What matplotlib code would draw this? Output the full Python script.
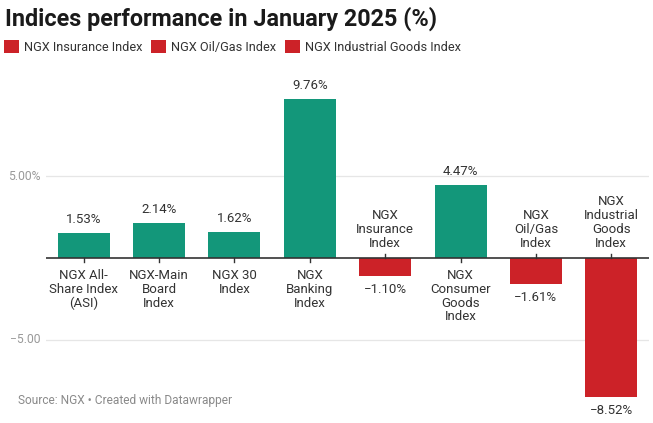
import matplotlib
matplotlib.use("Agg")
import matplotlib.pyplot as plt
from matplotlib.patches import Patch

plt.rcParams['font.family'] = ['Roboto', 'DejaVu Sans']

categories = ["NGX All-\nShare Index\n(ASI)", "NGX-Main\nBoard\nIndex", "NGX 30\nIndex",
              "NGX\nBanking\nIndex", "NGX\nInsurance\nIndex", "NGX\nConsumer\nGoods\nIndex",
              "NGX\nOil/Gas\nIndex", "NGX\nIndustrial\nGoods\nIndex"]
values = [1.53, 2.14, 1.62, 9.76, -1.10, 4.47, -1.61, -8.52]
legend_labels = ["NGX Insurance Index", "NGX Oil/Gas Index", "NGX Industrial Goods Index"]
yticks = [-5, 5]
ytick_labels = ["\u22125.00", "5.00%"]

GREEN = "#13977a"
RED = "#cc2228"
TXT = "#333333"

fig = plt.figure(figsize=(6.53, 4.23), dpi=100)
ax = fig.add_axes([46/653, 23/423, (649-46)/653, 310/423])
ax.set_xlim(-0.5, len(values) - 0.5)
ax.set_ylim(-8.71, 10.3)
for s in ax.spines.values():
    s.set_visible(False)
ax.set_xticks([])
ax.set_yticks([])

for y in yticks:
    ax.axhline(y, color="#e6e6e6", lw=0.9, zorder=0)
for y, lab in zip(yticks, ytick_labels):
    ax.annotate(lab, xy=(0, y), xycoords=('axes fraction', 'data'), xytext=(-4, 0),
                textcoords='offset points', ha='right', va='center', fontsize=8.7, color="#999999")

colors = [GREEN if v >= 0 else RED for v in values]
ax.bar(range(len(values)), values, width=0.69, color=colors, zorder=2)
ax.axhline(0, color="#333333", lw=1.2, zorder=3)

for i, (v, c) in enumerate(zip(values, categories)):
    sign = 1 if v >= 0 else -1
    ax.plot([i, i], [0, -sign * 0.22], color="#333333", lw=1.0, zorder=3)
    if v >= 0:
        ax.annotate(c, xy=(i, 0), xytext=(0, -8), textcoords='offset points', ha='center', va='top',
                    fontsize=9.5, color=TXT, linespacing=1.08)
        ax.annotate(f"{v:.2f}%", xy=(i, v), xytext=(0, 5), textcoords='offset points', ha='center',
                    va='bottom', fontsize=9.5, color=TXT)
    else:
        ax.annotate(c, xy=(i, 0), xytext=(0, 6), textcoords='offset points', ha='center', va='bottom',
                    fontsize=9.5, color=TXT, linespacing=1.08)
        ax.annotate(f"\u2212{abs(v):.2f}%", xy=(i, v), xytext=(0, -5), textcoords='offset points',
                    ha='center', va='top', fontsize=9.5, color=TXT)

fig.text(5/653, 1 - 19/423, "Indices performance in January 2025 (%)", fontsize=16.8,
         fontweight='bold', color="#1a1a1a", ha='left', va='center')

handles = [Patch(facecolor=RED, edgecolor='none') for _ in legend_labels]
fig.legend(handles, legend_labels, loc='upper left', bbox_to_anchor=(0.0, 1 - 36/423), ncol=3,
           frameon=False, fontsize=9.2, handlelength=1.15, handleheight=1.15, handletextpad=0.4,
           columnspacing=0.7, borderaxespad=0, borderpad=0.3, labelcolor=TXT)

fig.text(18/653, 1 - 400/423, "Source: NGX \u2022 Created with Datawrapper", fontsize=8.6,
         color="#8a8a8a", ha='left', va='center')

fig.savefig("out.png", dpi=100, facecolor='white')
